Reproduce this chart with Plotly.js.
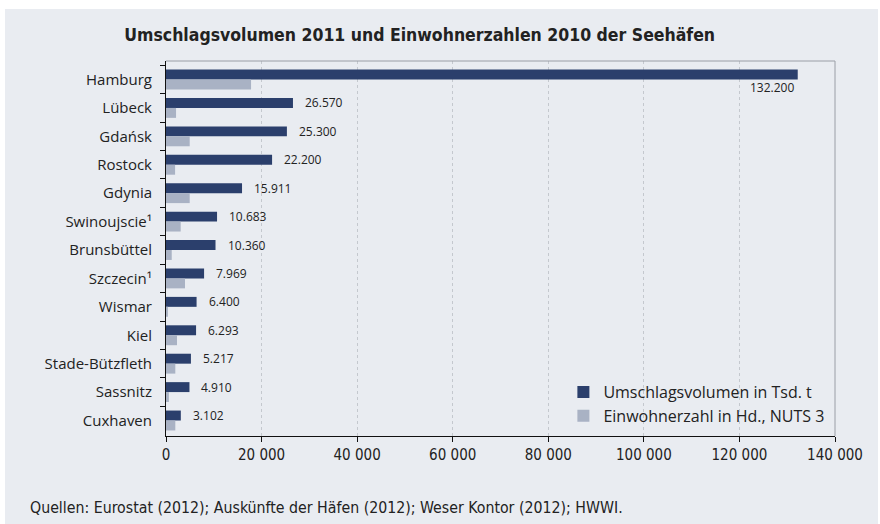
<!DOCTYPE html>
<html>
<head>
<meta charset="utf-8">
<script src="https://cdn.plot.ly/plotly-3.0.1.min.js"></script>
<style>
  html, body { margin: 0; padding: 0; background: #ffffff; width: 880px; height: 524px; overflow: hidden; }
  #chart { position: absolute; left: 5px; top: 9px; width: 873px; height: 515px; }
</style>
</head>
<body>
<div id="chart"></div>
<script>
// Data
var ports = ["Hamburg", "Lübeck", "Gdańsk", "Rostock", "Gdynia", "Swinoujscie¹", "Brunsbüttel",
             "Szczecin¹", "Wismar", "Kiel", "Stade-Bützfleth", "Sassnitz", "Cuxhaven"];
var umschlag = [132200, 26570, 25300, 22200, 15911, 10683, 10360, 7969, 6400, 6293, 5217, 4910, 3102];
var umschlagLabels = ["132.200", "26.570", "25.300", "22.200", "15.911", "10.683", "10.360",
                      "7.969", "6.400", "6.293", "5.217", "4.910", "3.102"];
var einwohner = [17800, 2100, 4960, 1900, 4960, 3070, 1200, 3980, 400, 2300, 1950, 600, 1950];
var xTickVals = [0, 20000, 40000, 60000, 80000, 100000, 120000, 140000];
var xTickText = ["0", "20 000", "40 000", "60 000", "80 000", "100 000", "120 000", "140 000"];
var seriesNames = ["Umschlagsvolumen in Tsd. t", "Einwohnerzahl in Hd., NUTS 3"];
var titleText = "Umschlagsvolumen 2011 und Einwohnerzahlen 2010 der Seehäfen";
var sourceText = "Quellen: Eurostat (2012); Auskünfte der Häfen (2012); Weser Kontor (2012); HWWI.";

var darkColor = "#2b3f6c";
var lightColor = "#a9b2c4";
var textColor = "#222222";
var narrowFont = "Liberation Sans Narrow, Arial Narrow, DejaVu Sans Condensed, sans-serif";

var traces = [
  {
    type: "bar", orientation: "h", name: seriesNames[0], legendgroup: "a",
    y: ports, x: umschlag,
    marker: { color: darkColor },
    hoverinfo: "skip"
  },
  {
    type: "bar", orientation: "h", name: seriesNames[1], legendgroup: "b",
    y: ports, x: einwohner,
    marker: { color: lightColor },
    hoverinfo: "skip"
  }
];

var maxVal = Math.max.apply(null, umschlag);
var annotations = ports.map(function (p, i) {
  var isMax = umschlag[i] === maxVal;
  return {
    x: umschlag[i], y: p, xref: "x", yref: "y",
    text: umschlagLabels[i], showarrow: false,
    xanchor: isMax ? "right" : "left",
    xshift: isMax ? -2 : 10,
    yshift: isMax ? -8 : 5,
    font: { family: "Open Sans, sans-serif", size: 12, color: textColor }
  };
});

annotations.push({
  x: -0.2063, y: -0.19, xref: "paper", yref: "paper",
  xanchor: "left", yanchor: "middle",
  text: sourceText, showarrow: false,
  font: { family: narrowFont, size: 15.75, color: textColor }
});

var layout = {
  width: 873, height: 515,
  paper_bgcolor: "#e9ecf1",
  plot_bgcolor: "#e9ecf1",
  margin: { l: 161, r: 43, t: 52, b: 88 },
  title: {
    text: "<b>" + titleText + "</b>",
    x: 0.475, xref: "container", xanchor: "center",
    y: 0.95, yref: "container", yanchor: "middle",
    automargin: false,
    font: { family: narrowFont, size: 17.5, color: textColor }
  },
  barmode: "group",
  bargap: 0.3,
  bargroupgap: 0,
  showlegend: true,
  legend: {
    x: 0.594, y: 0.008, xanchor: "left", yanchor: "bottom",
    bgcolor: "rgba(0,0,0,0)",
    font: { family: "Open Sans, sans-serif", size: 16, color: textColor },
    traceorder: "normal",
    tracegroupgap: 9,
    itemwidth: 30
  },
  xaxis: {
    range: [0, 140000],
    automargin: false,
    tickvals: xTickVals, ticktext: xTickText,
    showgrid: true, gridcolor: "#c4c8ce", griddash: "dot", gridwidth: 1,
    zeroline: false,
    showline: true, linecolor: "#111111", linewidth: 1,
    ticks: "outside", ticklen: 5, tickcolor: "#111111",
    tickfont: { family: narrowFont, size: 15, color: textColor },
    fixedrange: true
  },
  yaxis: {
    type: "category",
    automargin: false,
    autorange: "reversed",
    showgrid: false, zeroline: false,
    showline: true, linecolor: "#111111", linewidth: 1,
    ticks: "outside", ticklen: 5, tickcolor: "#111111",
    tickson: "boundaries",
    ticklabelstandoff: 10,
    tickfont: { family: "Open Sans, sans-serif", size: 15, color: textColor },
    fixedrange: true
  },
  shapes: [
    { type: "line", xref: "paper", yref: "paper", x0: 0, x1: 1, y0: 1, y1: 1, line: { color: "#9a9ea6", width: 1 } },
    { type: "line", xref: "paper", yref: "paper", x0: 1, x1: 1, y0: 0, y1: 1, line: { color: "#9a9ea6", width: 1 } }
  ],
  annotations: annotations
};

Plotly.newPlot("chart", traces, layout, { displayModeBar: false, staticPlot: true });
</script>
</body>
</html>
